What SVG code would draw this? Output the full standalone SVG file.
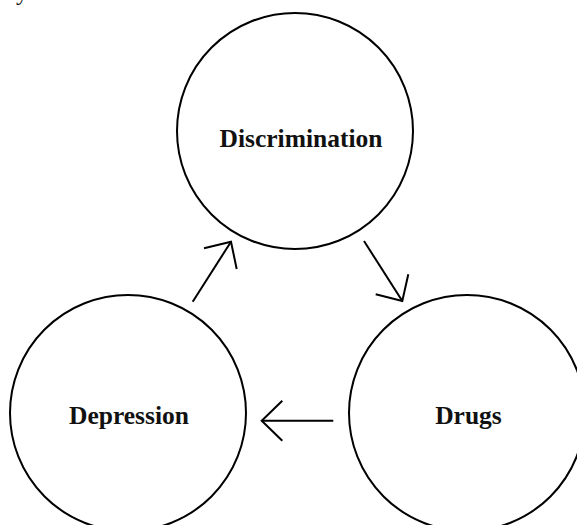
<svg xmlns="http://www.w3.org/2000/svg" width="577" height="525" viewBox="0 0 577 525">
<style>
.node{fill:#fff;stroke:#000;stroke-width:2}
.lbl{font-family:"Liberation Serif","Times New Roman",serif;font-weight:bold;font-size:25.5px;fill:#111;text-anchor:middle}
.conn line,.conn polyline{fill:none;stroke:#000;stroke-width:2;stroke-linecap:butt;stroke-linejoin:miter}
.title{font-family:"Liberation Serif","Times New Roman",serif;font-size:24px;fill:#111}
</style>
<rect width="577" height="525" fill="#fff"/>
<text class="title" x="0" y="0">Cycle</text>
<g id="node-discrimination">
<circle class="node" cx="295" cy="131" r="118"/>
<text class="lbl" x="301" y="147">Discrimination</text>
</g>
<g id="node-depression">
<circle class="node" cx="128" cy="413" r="118"/>
<text class="lbl" x="129" y="424">Depression</text>
</g>
<g id="node-drugs">
<circle class="node" cx="467" cy="413" r="118"/>
<text class="lbl" x="468.5" y="424">Drugs</text>
</g>
<g class="conn" id="connectors">
<line x1="192.7" y1="301.7" x2="231" y2="241.7"/>
<polyline points="204,248.3 231,241.7 236.7,269"/>
<line x1="364" y1="241" x2="402.3" y2="301"/>
<polyline points="375.7,294.3 402.3,301 408.3,274.3"/>
<line x1="333.3" y1="420.7" x2="261.7" y2="420.7"/>
<polyline points="282.3,400.7 261.7,420.7 282.3,440.7"/>
</g>
</svg>
